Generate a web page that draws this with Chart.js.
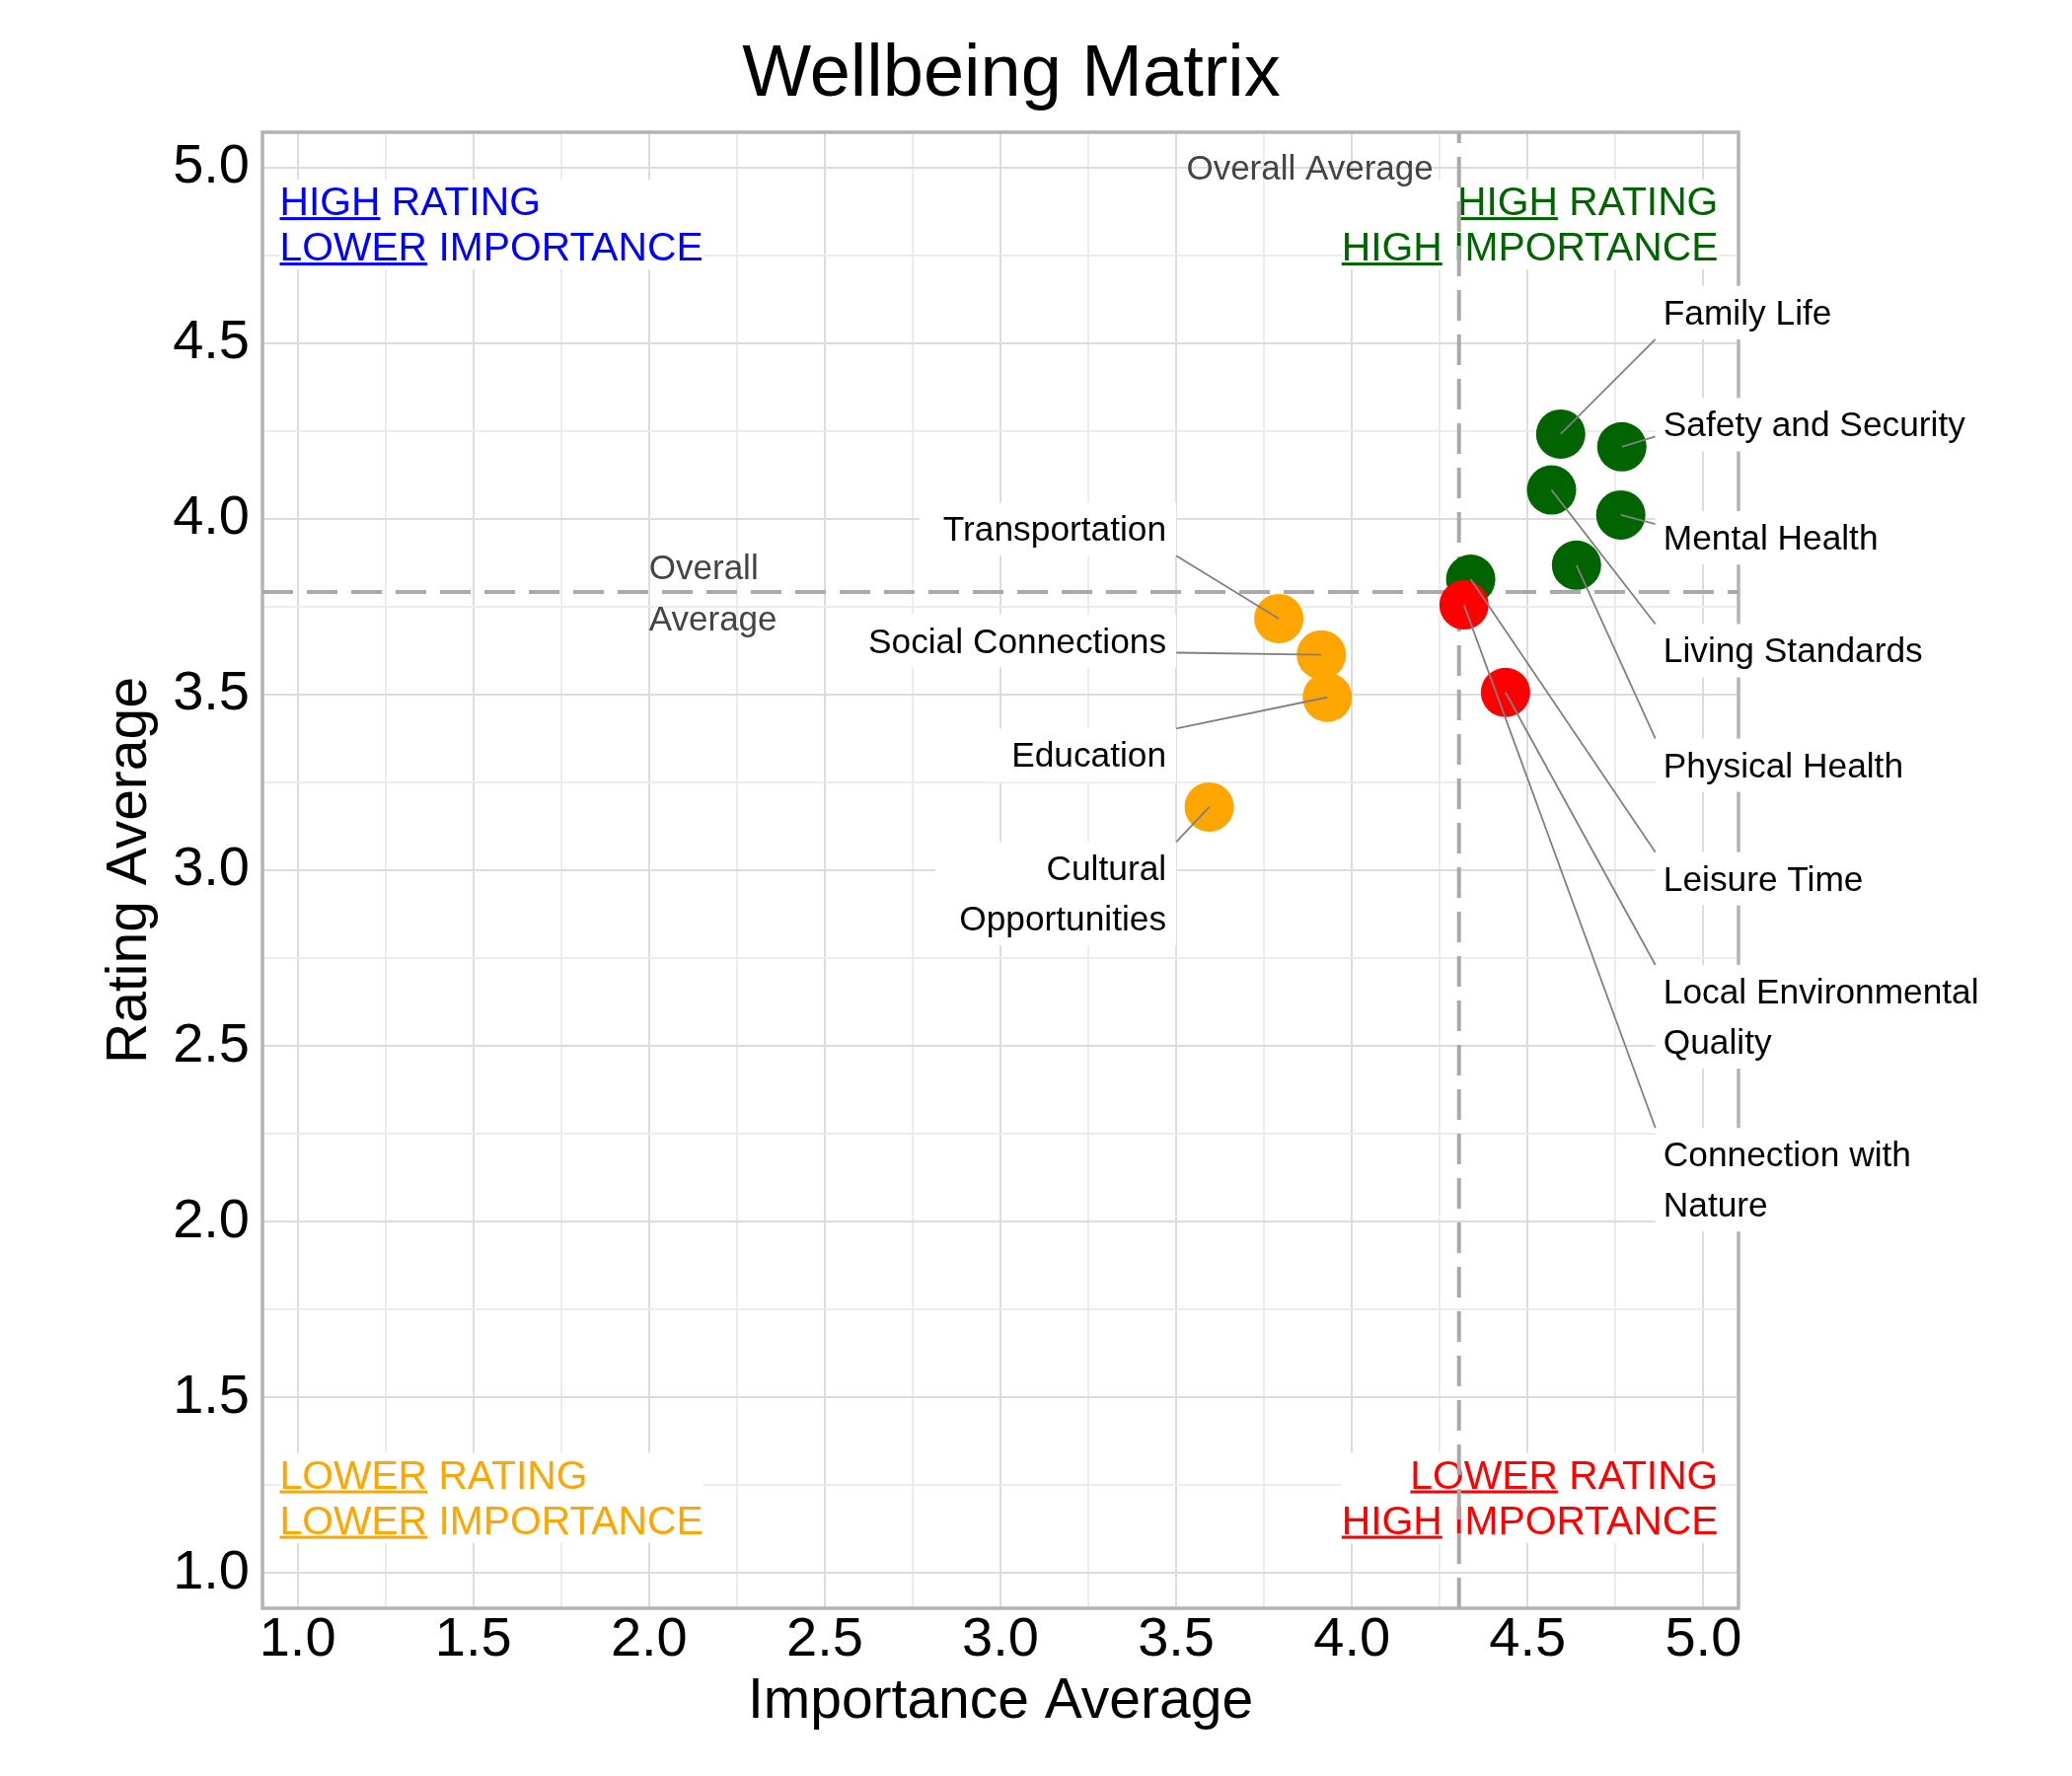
<!DOCTYPE html>
<html>
<head>
<meta charset="utf-8">
<title>Wellbeing Matrix</title>
<script src="https://cdn.jsdelivr.net/npm/chart.js@4.4.1/dist/chart.umd.min.js"></script>
<style>
    html, body { margin: 0; padding: 0; background: #ffffff; }
    #wrap { width: 2100px; height: 1800px; }
</style>
</head>
<body>
<div id="wrap"><canvas id="matrixChart" width="2100" height="1800"></canvas></div>
<script>
// =============================================
//              DATA
// =============================================

const categories = [
    'Family Life', 'Safety and Security', 'Living Standards', 'Mental Health',
    'Physical Health', 'Leisure Time', 'Connection with Nature', 'Local Environmental Quality',
    'Transportation', 'Social Connections', 'Education', 'Cultural Opportunities'
];
const importanceAvg = [4.594, 4.768, 4.568, 4.765, 4.639, 4.338, 4.319, 4.437, 3.792, 3.913, 3.930, 3.594];
const ratingAvg     = [4.241, 4.205, 4.082, 4.011, 3.868, 3.828, 3.755, 3.506, 3.716, 3.613, 3.492, 3.180];

// labelled ticks (grid also has minor lines every 0.25)
const majorTicks = [1.0, 1.5, 2.0, 2.5, 3.0, 3.5, 4.0, 4.5, 5.0];

// =============================================
//              LAYOUT / STYLE
// =============================================

const FONT = '"Liberation Sans", Arial, Helvetica, sans-serif';
const GREEN = '#006400';
const ORANGE = '#FFA500';
const RED = '#FF0000';
const BLUE = '#0000FF';

// wrapped label text
const labelLines = {
    'Local Environmental Quality': ['Local Environmental', 'Quality'],
    'Connection with Nature': ['Connection with', 'Nature'],
    'Cultural Opportunities': ['Cultural', 'Opportunities']
};

// where each label sits (text anchor + first baseline, in axis units), same order as categories
const labelSpots = [
    { side: 'right', x: 4.886, y: 4.553 },
    { side: 'right', x: 4.886, y: 4.234 },
    { side: 'right', x: 4.886, y: 3.591 },
    { side: 'right', x: 4.886, y: 3.912 },
    { side: 'right', x: 4.886, y: 3.265 },
    { side: 'right', x: 4.886, y: 2.942 },
    { side: 'right', x: 4.886, y: 2.157 },
    { side: 'right', x: 4.886, y: 2.621 },
    { side: 'left',  x: 3.472, y: 3.937 },
    { side: 'left',  x: 3.472, y: 3.619 },
    { side: 'left',  x: 3.472, y: 3.294 },
    { side: 'left',  x: 3.472, y: 2.971 }
];

// quadrant captions: first word of each line is underlined
const quadrantNotes = [
    { lines: [['HIGH', 'RATING'], ['LOWER', 'IMPORTANCE']], color: BLUE,   x: 0.949, y: 4.864, align: 'left' },
    { lines: [['HIGH', 'RATING'], ['HIGH', 'IMPORTANCE']],  color: GREEN,  x: 5.042, y: 4.864, align: 'right' },
    { lines: [['LOWER', 'RATING'], ['LOWER', 'IMPORTANCE']], color: ORANGE, x: 0.949, y: 1.241, align: 'left' },
    { lines: [['LOWER', 'RATING'], ['HIGH', 'IMPORTANCE']], color: RED,    x: 5.042, y: 1.241, align: 'right' }
];

// =============================================
//              HELPERS
// =============================================

const mean = arr => arr.reduce((a, b) => a + b, 0) / arr.length;
const overallImportance = mean(importanceAvg);
const overallRating = mean(ratingAvg);

const isMajor = v => majorTicks.some(t => Math.abs(t - v) < 1e-6);
const clamp = (v, lo, hi) => Math.max(lo, Math.min(hi, v));

function pointColor(i) {
    const hiImp = importanceAvg[i] >= overallImportance;
    const hiRate = ratingAvg[i] >= overallRating;
    if (hiImp && hiRate) return GREEN;
    if (hiImp) return RED;
    if (hiRate) return BLUE;
    return ORANGE;
}

// =============================================
//              CUSTOM DRAWING
// =============================================

const LINE_GAP = 51;

const matrixDecor = {
    id: 'matrixDecor',
    beforeDatasetsDraw(chart) {
        const { ctx, chartArea: area, scales: { x, y } } = chart;
        ctx.save();

        // plot frame
        ctx.strokeStyle = '#b3b3b3';
        ctx.lineWidth = 3.5;
        ctx.strokeRect(area.left, area.top, area.right - area.left, area.bottom - area.top);

        // quadrant captions
        ctx.font = '40.8px ' + FONT;
        ctx.textBaseline = 'alphabetic';
        ctx.textAlign = 'left';
        quadrantNotes.forEach(note => {
            const px = x.getPixelForValue(note.x);
            const base = y.getPixelForValue(note.y);
            const rows = note.lines.map((pair, k) => {
                const text = pair[0] + ' ' + pair[1];
                const w = ctx.measureText(text).width;
                const left = note.align === 'left' ? px : px - w;
                return { text, w, left, uw: ctx.measureText(pair[0]).width, b: base + k * 46 };
            });
            const boxL = Math.min(...rows.map(r => r.left));
            const boxR = Math.max(...rows.map(r => r.left + r.w));
            ctx.fillStyle = '#ffffff';
            ctx.fillRect(boxL, base - 36, boxR - boxL, rows[rows.length - 1].b + 9 - (base - 36));
            ctx.fillStyle = note.color;
            rows.forEach(r => {
                ctx.fillText(r.text, r.left, r.b);
                ctx.fillRect(r.left, r.b + 2, r.uw, 3);
            });
        });

        // overall average lines
        const ax = x.getPixelForValue(overallImportance);
        const ay = y.getPixelForValue(overallRating);
        ctx.strokeStyle = '#a9a9a9';
        ctx.lineWidth = 4;
        ctx.setLineDash([31, 14]);
        ctx.beginPath();
        ctx.moveTo(ax, area.bottom);
        ctx.lineTo(ax, area.top);
        ctx.moveTo(area.left, ay);
        ctx.lineTo(area.right, ay);
        ctx.stroke();
        ctx.setLineDash([]);

        // overall average captions
        ctx.fillStyle = '#444444';
        ctx.font = '35px ' + FONT;
        ctx.textAlign = 'right';
        ctx.fillText('Overall Average', ax - 26, area.top + 48);
        ctx.textAlign = 'left';
        const capX = x.getPixelForValue(2.0);
        ctx.fillText('Overall', capX, ay - 13);
        ctx.fillText('Average', capX, ay + 38.5);

        ctx.restore();
    },
    afterDatasetsDraw(chart) {
        const { ctx, scales: { x, y } } = chart;
        ctx.save();
        ctx.font = '35.3px ' + FONT;
        ctx.textBaseline = 'alphabetic';

        categories.forEach((name, i) => {
            const spot = labelSpots[i];
            const lines = labelLines[name] || [name];
            const maxW = Math.max(...lines.map(l => ctx.measureText(l).width));
            const ax = x.getPixelForValue(spot.x);
            const base = y.getPixelForValue(spot.y);
            const lastBase = base + (lines.length - 1) * LINE_GAP;
            const box = spot.side === 'right'
                ? { l: ax - 8, r: ax + maxW + 8 }
                : { l: ax - maxW - 24, r: ax + 10 };
            box.t = base - 39;
            box.b = lastBase + 15;

            // leader from point centre to the label box
            const px = x.getPixelForValue(importanceAvg[i]);
            const py = y.getPixelForValue(ratingAvg[i]);
            let ex = clamp(px, box.l, box.r);
            let ey = clamp(py, box.t, box.b);
            if (py > box.t && py < box.b) {
                // side hit: aim at the text band
                ey = clamp(py, base - 26, lastBase);
            }
            ctx.strokeStyle = '#808080';
            ctx.lineWidth = 1.8;
            ctx.beginPath();
            ctx.moveTo(px, py);
            ctx.lineTo(ex, ey);
            ctx.stroke();

            ctx.fillStyle = '#ffffff';
            ctx.fillRect(box.l, box.t, box.r - box.l, box.b - box.t);
            ctx.fillStyle = '#000000';
            ctx.textAlign = spot.side === 'right' ? 'left' : 'right';
            lines.forEach((line, k) => ctx.fillText(line, ax, base + k * LINE_GAP));
        });
        ctx.restore();
    },
    afterDraw(chart) {
        const { ctx } = chart;
        ctx.save();
        ctx.fillStyle = '#000000';
        ctx.font = '74px ' + FONT;
        ctx.textAlign = 'center';
        ctx.textBaseline = 'alphabetic';
        ctx.fillText('Wellbeing Matrix', 1025, 97);
        ctx.restore();
    }
};

// =============================================
//              CHART
// =============================================

const axisCommon = {
    type: 'linear',
    min: 0.9,
    max: 5.1,
    border: { display: false },
    grid: {
        drawTicks: false,
        lineWidth: 2,
        color: ctx => isMajor(ctx.tick.value) ? '#dcdcdc' : '#ececec'
    }
};

new Chart(document.getElementById('matrixChart'), {
    type: 'scatter',
    data: {
        datasets: [{
            label: 'Wellbeing',
            data: categories.map((c, i) => ({ x: importanceAvg[i], y: ratingAvg[i] })),
            backgroundColor: categories.map((c, i) => pointColor(i)),
            borderWidth: 0,
            pointRadius: 25,
            pointHoverRadius: 25
        }]
    },
    options: {
        responsive: false,
        devicePixelRatio: 1,
        animation: false,
        events: [],
        layout: { padding: { left: 0, right: 338, top: 134, bottom: 0 } },
        plugins: {
            legend: { display: false },
            title: { display: false },
            tooltip: { enabled: false }
        },
        scales: {
            x: {
                ...axisCommon,
                ticks: {
                    stepSize: 0.25,
                    includeBounds: false,
                    autoSkip: false,
                    maxRotation: 0,
                    padding: 5,
                    color: '#000000',
                    font: { family: FONT, size: 56, lineHeight: 1 },
                    callback: v => isMajor(v) ? v.toFixed(1) : ''
                },
                title: {
                    display: true,
                    text: 'Importance Average',
                    color: '#000000',
                    font: { family: FONT, size: 57, lineHeight: 1.2 },
                    padding: { top: 0, bottom: 40.6 }
                },
                afterFit: scale => { scale.height = 170; }
            },
            y: {
                ...axisCommon,
                ticks: {
                    stepSize: 0.25,
                    includeBounds: false,
                    autoSkip: false,
                    padding: 13,
                    color: '#000000',
                    font: { family: FONT, size: 56, lineHeight: 1 },
                    callback: v => isMajor(v) ? v.toFixed(1) : ''
                },
                title: {
                    display: true,
                    text: 'Rating Average',
                    color: '#000000',
                    font: { family: FONT, size: 57, lineHeight: 1.2 },
                    padding: { top: 97.8, bottom: 0 }
                },
                afterFit: scale => { scale.width = 266; }
            }
        }
    },
    plugins: [matrixDecor]
});
</script>
</body>
</html>
